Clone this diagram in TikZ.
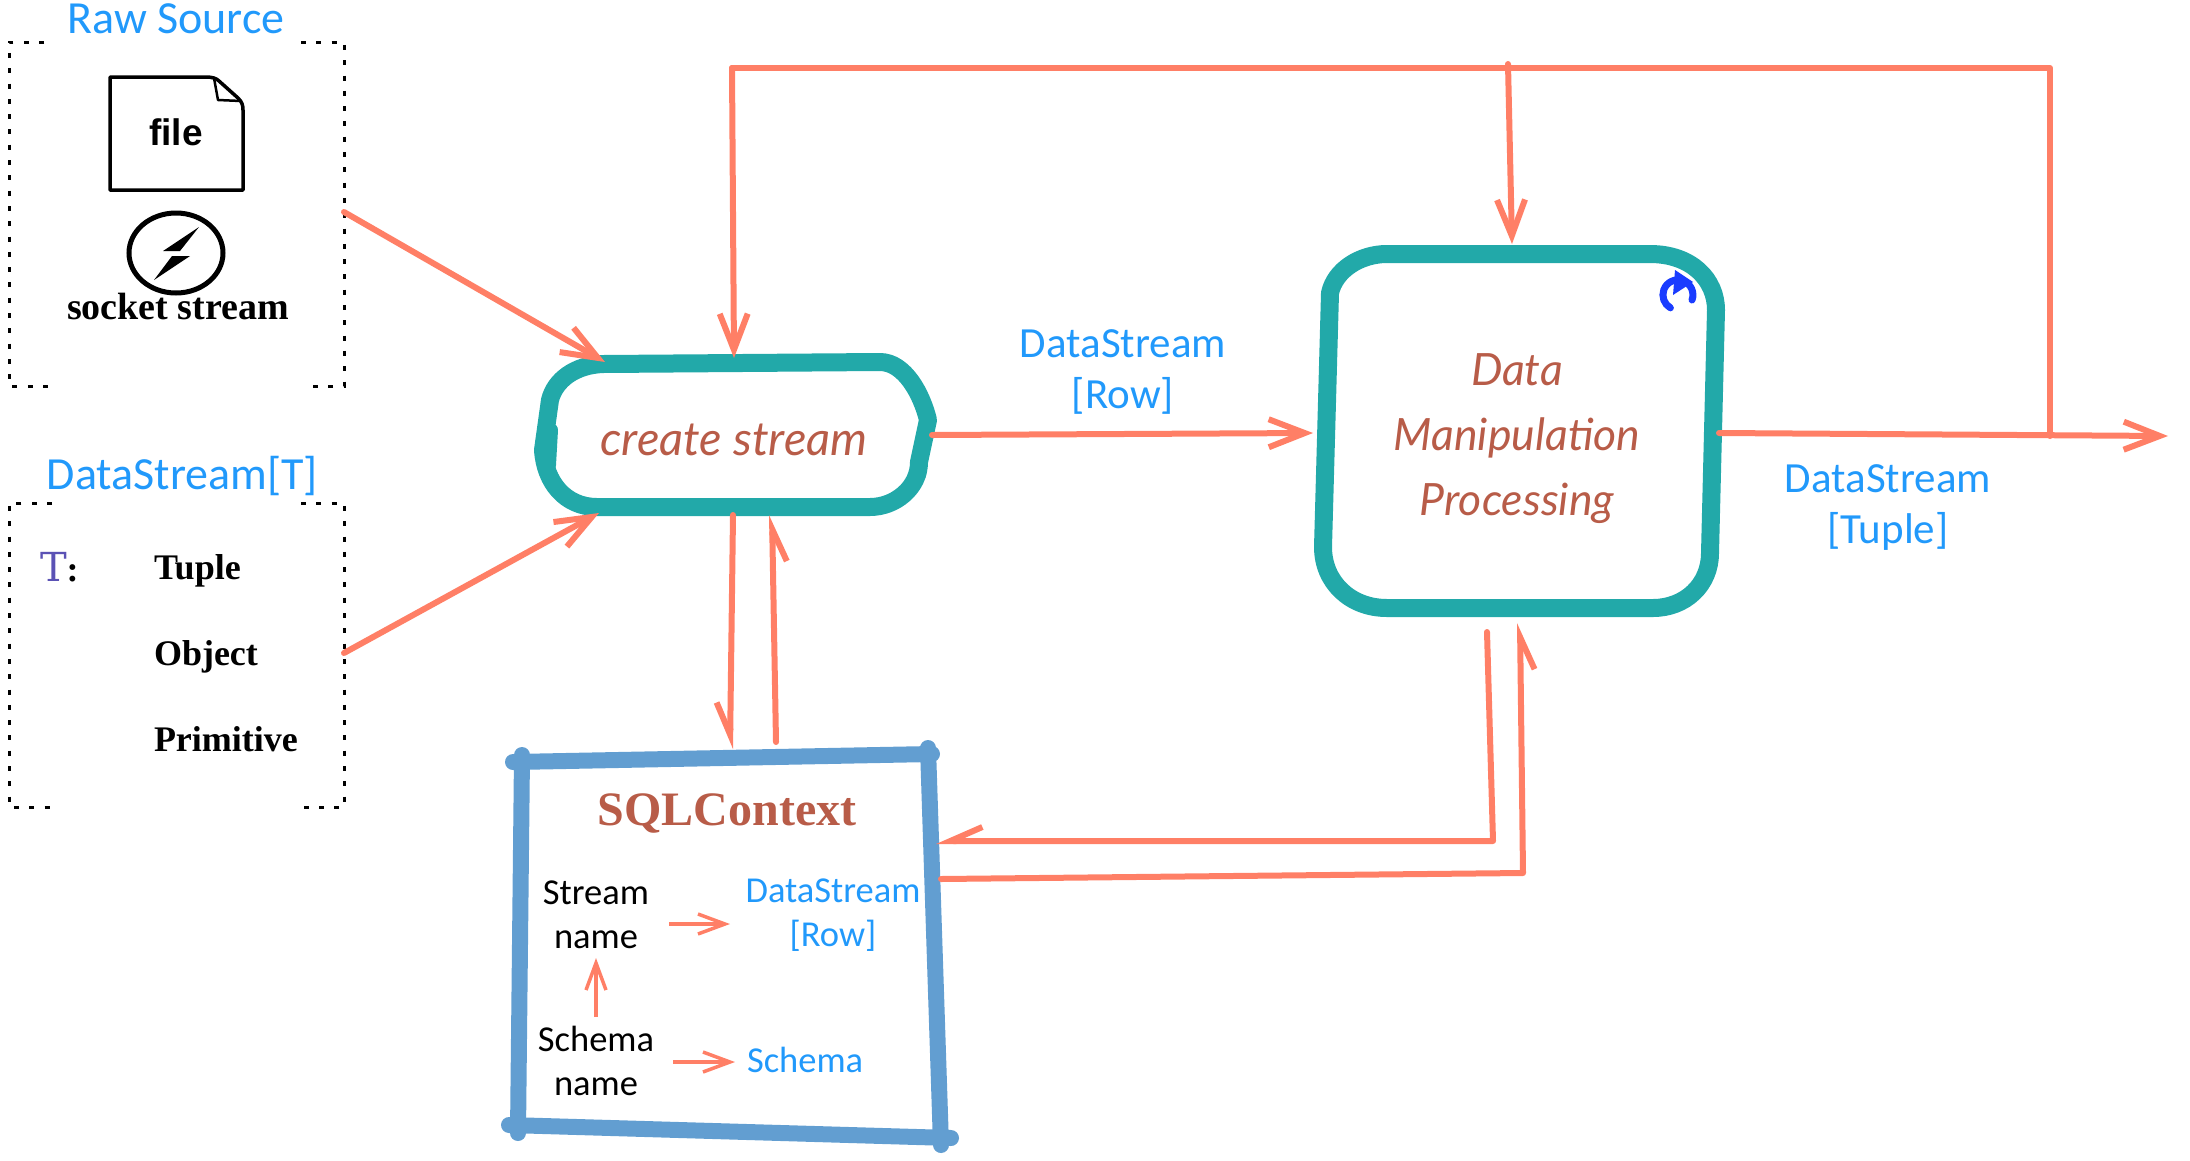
\documentclass[tikz,border=0pt]{standalone}
\usepackage{fontspec}
\usetikzlibrary{arrows.meta}
\setmainfont{Carlito}
\newfontfamily\serifbf{Liberation Serif}
\newfontfamily\slabf{DejaVu Serif}
\newfontfamily\arialf{Liberation Sans}
\newfontfamily\handf{Lato}
\definecolor{arrowc}{HTML}{FF7F66}
\definecolor{labelc}{HTML}{2199FB}
\definecolor{tealc}{HTML}{22A9A9}
\definecolor{sqlc}{HTML}{629ED1}
\definecolor{handc}{HTML}{B85C48}
\definecolor{tpurple}{HTML}{5B52B5}
\definecolor{iconc}{HTML}{1A3CFF}
\tikzset{
  every node/.style={inner sep=0pt,outer sep=0pt},
  conn/.style={draw=arrowc,line width=6pt,line cap=round,line join=round},
  full/.style={conn,-{Straight Barb[length=36pt,width=28pt]}},
  half/.style={conn,-{Straight Barb[right,length=32pt,width=28pt]}},
  thin/.style={draw=arrowc,line width=3.5pt,-{Straight Barb[length=27pt,width=20pt]}},
  frame/.style={draw=black,line width=3pt,dash pattern=on 5pt off 10.3pt},
  shapeb/.style={draw=tealc,line join=round,line cap=round},
  sqlb/.style={draw=sqlc,line width=16pt,line cap=round},
  head/.style={font=\fontsize{46}{54}\selectfont,text=labelc},
  lab/.style={font=\fontsize{43}{51}\selectfont,text=labelc,align=center},
  inlab/.style={font=\fontsize{36.5}{44}\selectfont,align=center},
  bold/.style={font=\fontsize{36}{42}\selectfont\serifbf\bfseries,text=black},
  hand/.style={font=\fontsize{44.5}{50}\selectfont\handf\itshape,text=handc},
}
\begin{document}
\begin{tikzpicture}[x=1pt,y=-1pt]
\useasboundingbox (0,0) rectangle (2190,1160);

% dashed frames
\draw[frame] (44,42) -- (9,42) -- (9,386) -- (52,386);
\draw[frame] (301,42) -- (344,42) -- (344,386) -- (312,386);
\draw[frame] (52,503) -- (9,503) -- (9,807) -- (52,807);
\draw[frame] (301,503) -- (344,503) -- (344,807) -- (302,807);
\node[head,anchor=base] (rawsrc) at (176,33) {Raw Source};
\node[head,anchor=base] (dsT) at (182.5,489) {DataStream[T]};

% file icon
\draw[black,line width=3.5pt,line join=round] (110,77) -- (205,77) .. controls (212,77) and (216,78) .. (219,81) -- (238,98) .. controls (242,102) and (243,105) .. (243,110) -- (243,190) -- (110,190) -- cycle;
\draw[black,line width=2.5pt,line join=round] (214,78) -- (218,100) -- (241,101);
\node[font=\fontsize{37}{44}\selectfont\arialf\bfseries,anchor=base] (file) at (176,145) {file};

% socket icon
\draw[black,line width=5pt] (176,253) ellipse [x radius=47,y radius=40];
\fill[black] (199,227) -- (163,251) -- (180,251) -- cycle;
\fill[black] (190,256) -- (172,256) -- (154,280) -- cycle;
\node[font=\fontsize{38}{44}\selectfont\serifbf\bfseries,anchor=base] (sock) at (178,319) {socket stream};

% types
\node[bold,anchor=base west] (tt) at (40,581) {\fontsize{40}{50}\selectfont\slabf\mdseries\textcolor{tpurple}{T}\fontsize{36}{42}\selectfont\serifbf\bfseries:};
\node[bold,anchor=base west] (tup) at (154,579) {Tuple};
\node[bold,anchor=base west] (obj) at (154,665) {Object};
\node[bold,anchor=base west] (prim) at (154,751) {Primitive};

% create stream shape
\draw[shapeb,line width=18pt] (603,364) -- (880,362) .. controls (905,362) and (922,395) .. (928,420) -- (919,462) .. controls (919,488) and (895,507) .. (870,507) -- (597,507) .. controls (565,507) and (545,482) .. (543,450) -- (550,400) .. controls (555,380) and (575,365) .. (603,364) -- cycle;
\draw[shapeb,line width=14pt] (551,430) -- (549,465);
\draw[shapeb,line width=12pt] (921,455) -- (920,475);
\node[hand,font=\fontsize{47}{50}\selectfont\handf\itshape,anchor=base] (create) at (734,455) {create stream};

% refresh icon
\draw[iconc,line width=7pt,line cap=round] (1692,300) arc[start angle=20,end angle=-240,radius=15];
\fill[iconc] (1675,270) -- (1693,282) -- (1673,295) -- cycle;

% data shape
\draw[shapeb,line width=18pt] (1387,254) -- (1650,254) .. controls (1692,254) and (1716,280) .. (1716,310) -- (1710,553) .. controls (1710,585) and (1685,608) .. (1653,608) -- (1387,608) .. controls (1350,608) and (1323,582) .. (1323,547) -- (1330,293) .. controls (1335,270) and (1360,254) .. (1387,254) -- cycle;
\node[hand,anchor=base] (dm1) at (1517,385) {Data};
\node[hand,anchor=base] (dm2) at (1517,450) {Manipulation};
\node[hand,anchor=base] (dm3) at (1517,515) {Processing};

% sql shape
\draw[sqlb] (513,762) -- (932,754);
\draw[sqlb] (522,755) -- (518,1133);
\draw[sqlb] (509,1125) -- (951,1138);
\draw[sqlb] (928,748) -- (941,1145);
\node[font=\fontsize{48}{56}\selectfont\serifbf\bfseries,text=handc,anchor=base] (sqltitle) at (727,825) {SQLContext};
\node[inlab,text=black] (sname) at (596,915) {Stream\\name};
\node[inlab,text=labelc] (srow) at (833,915) {DataStream\\{[Row]}};
\node[inlab,text=black] (schn) at (596,1061) {Schema\\name};
\node[inlab,text=labelc,anchor=base west] (sch) at (747,1072) {Schema};

% labels
\node[lab] (lrow) at (1123,372) {DataStream\\{[Row]}};
\node[lab] (ltup) at (1888,508) {DataStream\\{[Tuple]}};

% anchor points
\coordinate (a1) at (344,212); \coordinate (a1e) at (605,362);
\coordinate (a2) at (344,653); \coordinate (a2e) at (599,513);
\coordinate (r1) at (932,435); \coordinate (r2) at (1313,433);
\coordinate (o1) at (1719,433); \coordinate (o2) at (2168,436);
\coordinate (oj) at (2050,436);
\coordinate (t1) at (2050,68); \coordinate (t2) at (732,68);
\coordinate (tl) at (734,358);
\coordinate (tm) at (1508,64); \coordinate (tme) at (1512,244);
\coordinate (d1) at (733,515); \coordinate (d2) at (730,749);
\coordinate (u1) at (776,742); \coordinate (u2) at (772,515);
\coordinate (e1) at (1487,632); \coordinate (e2) at (1493,841); \coordinate (e3) at (936,841);
\coordinate (f1) at (941,879); \coordinate (f2) at (1523,873); \coordinate (f3) at (1520,623);
\coordinate (i1) at (669,924); \coordinate (i2) at (730,924);
\coordinate (j1) at (673,1062); \coordinate (j2) at (735,1062);
\coordinate (k1) at (596,1017); \coordinate (k2) at (596,958);

% connectors
\draw[full] (a1) -- (a1e);
\draw[full] (a2) -- (a2e);
\draw[full] (r1) -- (r2);
\draw[full] (o1) -- (o2);
\draw[conn] (oj) -- (t1) -- (t2);
\draw[full] (t2) -- (tl);
\draw[full] (tm) -- (tme);
\draw[half] (d1) -- (d2);
\draw[half] (u1) -- (u2);
\draw[half] (e1) -- (e2) -- (e3);
\draw[half] (f1) -- (f2) -- (f3);
\draw[thin] (i1) -- (i2);
\draw[thin] (j1) -- (j2);
\draw[thin] (k1) -- (k2);
\end{tikzpicture}
\end{document}
